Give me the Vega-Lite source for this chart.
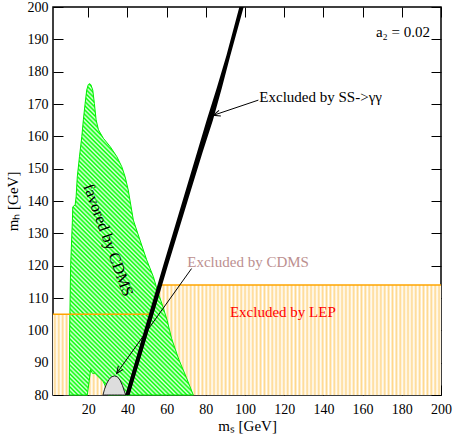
{
"$schema": "https://vega.github.io/schema/vega-lite/v6.json",
"width": 388, "height": 388,
"autosize": {"type": "none"},
"padding": {"left": 53, "top": 7, "right": 12, "bottom": 41},
"background": "white",
"config": {
 "view": {"stroke": "#000", "strokeWidth": 1.5},
 "axis": {"domain": false, "ticks": false, "grid": true, "gridColor": "#000", "gridOpacity": 1, "gridWidth": 1, "zindex": 1, "labelFont": "Liberation Serif", "labelFontSize": 14, "labelColor": "#000", "titleFont": "Liberation Serif", "titleFontSize": 15, "titleFontWeight": "normal", "titleColor": "#000", "labelFlush": false, "labelOverlap": false},
 "text": {"font": "Liberation Serif", "fontSize": 15}
},
"datasets": {
 "orange": [{"x": 2, "y": 105}, {"x": 52.5, "y": 105}, {"x": 56.8, "y": 114}, {"x": 200, "y": 114}],
 "cdms": [{"x":10.3,"y":80},{"x":10.5,"y":100},{"x":11.0,"y":120},{"x":11.9,"y":134},{"x":12.1,"y":138.2},{"x":13.3,"y":138.8},{"x":13.8,"y":141.3},{"x":14.4,"y":147.5},{"x":15.5,"y":153.7},{"x":16.7,"y":159.9},{"x":17.5,"y":165.1},{"x":18.4,"y":170.2},{"x":19.2,"y":174.3},{"x":20.0,"y":176.0},{"x":20.6,"y":176.3},{"x":21.3,"y":176.0},{"x":22.3,"y":174.3},{"x":23.1,"y":170.2},{"x":24.0,"y":165.1},{"x":25.2,"y":162.0},{"x":27.7,"y":159.4},{"x":31.2,"y":156.8},{"x":34.6,"y":153.7},{"x":37.1,"y":150.6},{"x":38.8,"y":147.5},{"x":40.4,"y":143.4},{"x":43.0,"y":134.1},{"x":46.4,"y":127.9},{"x":49.8,"y":121.8},{"x":53.2,"y":116.6},{"x":55.7,"y":111.5},{"x":58.0,"y":107.5},{"x":60.3,"y":103},{"x":62.5,"y":97.5},{"x":66.2,"y":91},{"x":70,"y":85.5},{"x":73.6,"y":80},{"x":30,"y":80},{"x":28.5,"y":83},{"x":27.7,"y":84.1},{"x":23.4,"y":86.7},{"x":22.1,"y":86.7},{"x":21.2,"y":87.9},{"x":20.5,"y":84.5},{"x":19.5,"y":80},{"x":10.3,"y":80}],
 "bump": [{"x":27.5,"y":80},{"x":28.3,"y":81.8},{"x":29.3,"y":83.4},{"x":30.5,"y":84.7},{"x":31.8,"y":85.6},{"x":33.4,"y":85.9},{"x":34.9,"y":85.6},{"x":36.2,"y":84.6},{"x":37.4,"y":83},{"x":38.4,"y":81.2},{"x":39.1,"y":80}],
 "band": [{"y":80,"lo":38.9,"hi":41.1},{"y":100,"lo":48.55,"hi":50.85},{"y":120,"lo":58.2,"hi":60.6},{"y":140,"lo":68.1,"hi":70.7},{"y":155,"lo":75.5,"hi":78.3},{"y":165,"lo":80.4,"hi":83.6},{"y":175,"lo":85.6,"hi":88.2},{"y":185,"lo":90.5,"hi":92.5},{"y":200,"lo":97.1,"hi":99.3}],
 "arrowSS": [{"x":106.8,"y":171.2,"x2":83.8,"y2":166.5}],
 "arrowCDMS": [{"x":72.7,"y":119.1,"x2":34.5,"y2":86.7}],
 "labA2": [{"x":194.4,"y":192.3,"text":"a₂ = 0.02"}],
 "labSS": [{"x":107.3,"y":172.3,"text":"Excluded by SS->γγ"}],
 "labCDMS": [{"x":70.5,"y":121.0,"text":"Excluded by CDMS"}],
 "labLEP": [{"x":92.3,"y":105.8,"text":"Excluded by LEP"}],
 "labFav": [{"x":30.2,"y":127.9,"text":"favored by CDMS"}]
},
"encoding": {
 "x": {"field": "x", "type": "quantitative", "scale": {"domain": [2, 200], "nice": false, "zero": false}, "axis": null},
 "y": {"field": "y", "type": "quantitative", "scale": {"domain": [80, 200], "nice": false, "zero": false}, "axis": null}
},
"layer": [
 {"data": {"name": "orange"},
  "mark": {"type": "area", "fill": {"gradient": "linear", "x1": 0, "y1": 0, "x2": 1, "y2": 0, "stops": [
{"offset":0,"color":"#fff"},{"offset":0.005,"color":"#ffd88c"},{"offset":0.01,"color":"#fff"},{"offset":0.015,"color":"#ffd88c"},{"offset":0.02,"color":"#fff"},{"offset":0.025,"color":"#ffd88c"},{"offset":0.03,"color":"#fff"},{"offset":0.035,"color":"#ffd88c"},{"offset":0.04,"color":"#fff"},{"offset":0.045,"color":"#ffd88c"},{"offset":0.05,"color":"#fff"},{"offset":0.055,"color":"#ffd88c"},{"offset":0.06,"color":"#fff"},{"offset":0.065,"color":"#ffd88c"},{"offset":0.07,"color":"#fff"},{"offset":0.075,"color":"#ffd88c"},{"offset":0.08,"color":"#fff"},{"offset":0.085,"color":"#ffd88c"},{"offset":0.09,"color":"#fff"},{"offset":0.095,"color":"#ffd88c"},
{"offset":0.1,"color":"#fff"},{"offset":0.105,"color":"#ffd88c"},{"offset":0.11,"color":"#fff"},{"offset":0.115,"color":"#ffd88c"},{"offset":0.12,"color":"#fff"},{"offset":0.125,"color":"#ffd88c"},{"offset":0.13,"color":"#fff"},{"offset":0.135,"color":"#ffd88c"},{"offset":0.14,"color":"#fff"},{"offset":0.145,"color":"#ffd88c"},{"offset":0.15,"color":"#fff"},{"offset":0.155,"color":"#ffd88c"},{"offset":0.16,"color":"#fff"},{"offset":0.165,"color":"#ffd88c"},{"offset":0.17,"color":"#fff"},{"offset":0.175,"color":"#ffd88c"},{"offset":0.18,"color":"#fff"},{"offset":0.185,"color":"#ffd88c"},{"offset":0.19,"color":"#fff"},{"offset":0.195,"color":"#ffd88c"},
{"offset":0.2,"color":"#fff"},{"offset":0.205,"color":"#ffd88c"},{"offset":0.21,"color":"#fff"},{"offset":0.215,"color":"#ffd88c"},{"offset":0.22,"color":"#fff"},{"offset":0.225,"color":"#ffd88c"},{"offset":0.23,"color":"#fff"},{"offset":0.235,"color":"#ffd88c"},{"offset":0.24,"color":"#fff"},{"offset":0.245,"color":"#ffd88c"},{"offset":0.25,"color":"#fff"},{"offset":0.255,"color":"#ffd88c"},{"offset":0.26,"color":"#fff"},{"offset":0.265,"color":"#ffd88c"},{"offset":0.27,"color":"#fff"},{"offset":0.275,"color":"#ffd88c"},{"offset":0.28,"color":"#fff"},{"offset":0.285,"color":"#ffd88c"},{"offset":0.29,"color":"#fff"},{"offset":0.295,"color":"#ffd88c"},
{"offset":0.3,"color":"#fff"},{"offset":0.305,"color":"#ffd88c"},{"offset":0.31,"color":"#fff"},{"offset":0.315,"color":"#ffd88c"},{"offset":0.32,"color":"#fff"},{"offset":0.325,"color":"#ffd88c"},{"offset":0.33,"color":"#fff"},{"offset":0.335,"color":"#ffd88c"},{"offset":0.34,"color":"#fff"},{"offset":0.345,"color":"#ffd88c"},{"offset":0.35,"color":"#fff"},{"offset":0.355,"color":"#ffd88c"},{"offset":0.36,"color":"#fff"},{"offset":0.365,"color":"#ffd88c"},{"offset":0.37,"color":"#fff"},{"offset":0.375,"color":"#ffd88c"},{"offset":0.38,"color":"#fff"},{"offset":0.385,"color":"#ffd88c"},{"offset":0.39,"color":"#fff"},{"offset":0.395,"color":"#ffd88c"},
{"offset":0.4,"color":"#fff"},{"offset":0.405,"color":"#ffd88c"},{"offset":0.41,"color":"#fff"},{"offset":0.415,"color":"#ffd88c"},{"offset":0.42,"color":"#fff"},{"offset":0.425,"color":"#ffd88c"},{"offset":0.43,"color":"#fff"},{"offset":0.435,"color":"#ffd88c"},{"offset":0.44,"color":"#fff"},{"offset":0.445,"color":"#ffd88c"},{"offset":0.45,"color":"#fff"},{"offset":0.455,"color":"#ffd88c"},{"offset":0.46,"color":"#fff"},{"offset":0.465,"color":"#ffd88c"},{"offset":0.47,"color":"#fff"},{"offset":0.475,"color":"#ffd88c"},{"offset":0.48,"color":"#fff"},{"offset":0.485,"color":"#ffd88c"},{"offset":0.49,"color":"#fff"},{"offset":0.495,"color":"#ffd88c"},
{"offset":0.5,"color":"#fff"},{"offset":0.505,"color":"#ffd88c"},{"offset":0.51,"color":"#fff"},{"offset":0.515,"color":"#ffd88c"},{"offset":0.52,"color":"#fff"},{"offset":0.525,"color":"#ffd88c"},{"offset":0.53,"color":"#fff"},{"offset":0.535,"color":"#ffd88c"},{"offset":0.54,"color":"#fff"},{"offset":0.545,"color":"#ffd88c"},{"offset":0.55,"color":"#fff"},{"offset":0.555,"color":"#ffd88c"},{"offset":0.56,"color":"#fff"},{"offset":0.565,"color":"#ffd88c"},{"offset":0.57,"color":"#fff"},{"offset":0.575,"color":"#ffd88c"},{"offset":0.58,"color":"#fff"},{"offset":0.585,"color":"#ffd88c"},{"offset":0.59,"color":"#fff"},{"offset":0.595,"color":"#ffd88c"},
{"offset":0.6,"color":"#fff"},{"offset":0.605,"color":"#ffd88c"},{"offset":0.61,"color":"#fff"},{"offset":0.615,"color":"#ffd88c"},{"offset":0.62,"color":"#fff"},{"offset":0.625,"color":"#ffd88c"},{"offset":0.63,"color":"#fff"},{"offset":0.635,"color":"#ffd88c"},{"offset":0.64,"color":"#fff"},{"offset":0.645,"color":"#ffd88c"},{"offset":0.65,"color":"#fff"},{"offset":0.655,"color":"#ffd88c"},{"offset":0.66,"color":"#fff"},{"offset":0.665,"color":"#ffd88c"},{"offset":0.67,"color":"#fff"},{"offset":0.675,"color":"#ffd88c"},{"offset":0.68,"color":"#fff"},{"offset":0.685,"color":"#ffd88c"},{"offset":0.69,"color":"#fff"},{"offset":0.695,"color":"#ffd88c"},
{"offset":0.7,"color":"#fff"},{"offset":0.705,"color":"#ffd88c"},{"offset":0.71,"color":"#fff"},{"offset":0.715,"color":"#ffd88c"},{"offset":0.72,"color":"#fff"},{"offset":0.725,"color":"#ffd88c"},{"offset":0.73,"color":"#fff"},{"offset":0.735,"color":"#ffd88c"},{"offset":0.74,"color":"#fff"},{"offset":0.745,"color":"#ffd88c"},{"offset":0.75,"color":"#fff"},{"offset":0.755,"color":"#ffd88c"},{"offset":0.76,"color":"#fff"},{"offset":0.765,"color":"#ffd88c"},{"offset":0.77,"color":"#fff"},{"offset":0.775,"color":"#ffd88c"},{"offset":0.78,"color":"#fff"},{"offset":0.785,"color":"#ffd88c"},{"offset":0.79,"color":"#fff"},{"offset":0.795,"color":"#ffd88c"},
{"offset":0.8,"color":"#fff"},{"offset":0.805,"color":"#ffd88c"},{"offset":0.81,"color":"#fff"},{"offset":0.815,"color":"#ffd88c"},{"offset":0.82,"color":"#fff"},{"offset":0.825,"color":"#ffd88c"},{"offset":0.83,"color":"#fff"},{"offset":0.835,"color":"#ffd88c"},{"offset":0.84,"color":"#fff"},{"offset":0.845,"color":"#ffd88c"},{"offset":0.85,"color":"#fff"},{"offset":0.855,"color":"#ffd88c"},{"offset":0.86,"color":"#fff"},{"offset":0.865,"color":"#ffd88c"},{"offset":0.87,"color":"#fff"},{"offset":0.875,"color":"#ffd88c"},{"offset":0.88,"color":"#fff"},{"offset":0.885,"color":"#ffd88c"},{"offset":0.89,"color":"#fff"},{"offset":0.895,"color":"#ffd88c"},
{"offset":0.9,"color":"#fff"},{"offset":0.905,"color":"#ffd88c"},{"offset":0.91,"color":"#fff"},{"offset":0.915,"color":"#ffd88c"},{"offset":0.92,"color":"#fff"},{"offset":0.925,"color":"#ffd88c"},{"offset":0.93,"color":"#fff"},{"offset":0.935,"color":"#ffd88c"},{"offset":0.94,"color":"#fff"},{"offset":0.945,"color":"#ffd88c"},{"offset":0.95,"color":"#fff"},{"offset":0.955,"color":"#ffd88c"},{"offset":0.96,"color":"#fff"},{"offset":0.965,"color":"#ffd88c"},{"offset":0.97,"color":"#fff"},{"offset":0.975,"color":"#ffd88c"},{"offset":0.98,"color":"#fff"},{"offset":0.985,"color":"#ffd88c"},{"offset":0.99,"color":"#fff"},{"offset":0.995,"color":"#ffd88c"},
{"offset":1,"color":"#fff"}]}},
  "encoding": {
   "x": {"field": "x", "type": "quantitative", "axis": {"orient": "bottom", "values": [20,40,60,80,100,120,140,160,180,200], "gridDash": [10, 368], "labelPadding": 7, "labelFont": "Liberation Serif", "title": "mₛ [GeV]", "titlePadding": 2}},
   "y": {"field": "y", "type": "quantitative", "axis": {"orient": "left", "values": [80,90,100,110,120,130,140,150,160,170,180,190,200], "gridDash": [10, 368], "labelPadding": 5, "labelFont": "Liberation Serif", "title": "mₕ [GeV]", "titlePadding": 7}},
   "y2": {"datum": 80}
  }},
 {"data": {"name": "cdms"},
  "mark": {"type": "line", "stroke": "#00ee00", "strokeWidth": 1, "fill": {"gradient": "linear", "x1": 0, "y1": 1, "x2": 0.4806, "y2": -0.207, "stops": [
{"offset":0,"color":"#0f0"},{"offset":0.005,"color":"#e6ffe6"},{"offset":0.01,"color":"#0f0"},{"offset":0.015,"color":"#e6ffe6"},{"offset":0.02,"color":"#0f0"},{"offset":0.025,"color":"#e6ffe6"},{"offset":0.03,"color":"#0f0"},{"offset":0.035,"color":"#e6ffe6"},{"offset":0.04,"color":"#0f0"},{"offset":0.045,"color":"#e6ffe6"},{"offset":0.05,"color":"#0f0"},{"offset":0.055,"color":"#e6ffe6"},{"offset":0.06,"color":"#0f0"},{"offset":0.065,"color":"#e6ffe6"},{"offset":0.07,"color":"#0f0"},{"offset":0.075,"color":"#e6ffe6"},{"offset":0.08,"color":"#0f0"},{"offset":0.085,"color":"#e6ffe6"},{"offset":0.09,"color":"#0f0"},{"offset":0.095,"color":"#e6ffe6"},
{"offset":0.1,"color":"#0f0"},{"offset":0.105,"color":"#e6ffe6"},{"offset":0.11,"color":"#0f0"},{"offset":0.115,"color":"#e6ffe6"},{"offset":0.12,"color":"#0f0"},{"offset":0.125,"color":"#e6ffe6"},{"offset":0.13,"color":"#0f0"},{"offset":0.135,"color":"#e6ffe6"},{"offset":0.14,"color":"#0f0"},{"offset":0.145,"color":"#e6ffe6"},{"offset":0.15,"color":"#0f0"},{"offset":0.155,"color":"#e6ffe6"},{"offset":0.16,"color":"#0f0"},{"offset":0.165,"color":"#e6ffe6"},{"offset":0.17,"color":"#0f0"},{"offset":0.175,"color":"#e6ffe6"},{"offset":0.18,"color":"#0f0"},{"offset":0.185,"color":"#e6ffe6"},{"offset":0.19,"color":"#0f0"},{"offset":0.195,"color":"#e6ffe6"},
{"offset":0.2,"color":"#0f0"},{"offset":0.205,"color":"#e6ffe6"},{"offset":0.21,"color":"#0f0"},{"offset":0.215,"color":"#e6ffe6"},{"offset":0.22,"color":"#0f0"},{"offset":0.225,"color":"#e6ffe6"},{"offset":0.23,"color":"#0f0"},{"offset":0.235,"color":"#e6ffe6"},{"offset":0.24,"color":"#0f0"},{"offset":0.245,"color":"#e6ffe6"},{"offset":0.25,"color":"#0f0"},{"offset":0.255,"color":"#e6ffe6"},{"offset":0.26,"color":"#0f0"},{"offset":0.265,"color":"#e6ffe6"},{"offset":0.27,"color":"#0f0"},{"offset":0.275,"color":"#e6ffe6"},{"offset":0.28,"color":"#0f0"},{"offset":0.285,"color":"#e6ffe6"},{"offset":0.29,"color":"#0f0"},{"offset":0.295,"color":"#e6ffe6"},
{"offset":0.3,"color":"#0f0"},{"offset":0.305,"color":"#e6ffe6"},{"offset":0.31,"color":"#0f0"},{"offset":0.315,"color":"#e6ffe6"},{"offset":0.32,"color":"#0f0"},{"offset":0.325,"color":"#e6ffe6"},{"offset":0.33,"color":"#0f0"},{"offset":0.335,"color":"#e6ffe6"},{"offset":0.34,"color":"#0f0"},{"offset":0.345,"color":"#e6ffe6"},{"offset":0.35,"color":"#0f0"},{"offset":0.355,"color":"#e6ffe6"},{"offset":0.36,"color":"#0f0"},{"offset":0.365,"color":"#e6ffe6"},{"offset":0.37,"color":"#0f0"},{"offset":0.375,"color":"#e6ffe6"},{"offset":0.38,"color":"#0f0"},{"offset":0.385,"color":"#e6ffe6"},{"offset":0.39,"color":"#0f0"},{"offset":0.395,"color":"#e6ffe6"},
{"offset":0.4,"color":"#0f0"},{"offset":0.405,"color":"#e6ffe6"},{"offset":0.41,"color":"#0f0"},{"offset":0.415,"color":"#e6ffe6"},{"offset":0.42,"color":"#0f0"},{"offset":0.425,"color":"#e6ffe6"},{"offset":0.43,"color":"#0f0"},{"offset":0.435,"color":"#e6ffe6"},{"offset":0.44,"color":"#0f0"},{"offset":0.445,"color":"#e6ffe6"},{"offset":0.45,"color":"#0f0"},{"offset":0.455,"color":"#e6ffe6"},{"offset":0.46,"color":"#0f0"},{"offset":0.465,"color":"#e6ffe6"},{"offset":0.47,"color":"#0f0"},{"offset":0.475,"color":"#e6ffe6"},{"offset":0.48,"color":"#0f0"},{"offset":0.485,"color":"#e6ffe6"},{"offset":0.49,"color":"#0f0"},{"offset":0.495,"color":"#e6ffe6"},
{"offset":0.5,"color":"#0f0"},{"offset":0.505,"color":"#e6ffe6"},{"offset":0.51,"color":"#0f0"},{"offset":0.515,"color":"#e6ffe6"},{"offset":0.52,"color":"#0f0"},{"offset":0.525,"color":"#e6ffe6"},{"offset":0.53,"color":"#0f0"},{"offset":0.535,"color":"#e6ffe6"},{"offset":0.54,"color":"#0f0"},{"offset":0.545,"color":"#e6ffe6"},{"offset":0.55,"color":"#0f0"},{"offset":0.555,"color":"#e6ffe6"},{"offset":0.56,"color":"#0f0"},{"offset":0.565,"color":"#e6ffe6"},{"offset":0.57,"color":"#0f0"},{"offset":0.575,"color":"#e6ffe6"},{"offset":0.58,"color":"#0f0"},{"offset":0.585,"color":"#e6ffe6"},{"offset":0.59,"color":"#0f0"},{"offset":0.595,"color":"#e6ffe6"},
{"offset":0.6,"color":"#0f0"},{"offset":0.605,"color":"#e6ffe6"},{"offset":0.61,"color":"#0f0"},{"offset":0.615,"color":"#e6ffe6"},{"offset":0.62,"color":"#0f0"},{"offset":0.625,"color":"#e6ffe6"},{"offset":0.63,"color":"#0f0"},{"offset":0.635,"color":"#e6ffe6"},{"offset":0.64,"color":"#0f0"},{"offset":0.645,"color":"#e6ffe6"},{"offset":0.65,"color":"#0f0"},{"offset":0.655,"color":"#e6ffe6"},{"offset":0.66,"color":"#0f0"},{"offset":0.665,"color":"#e6ffe6"},{"offset":0.67,"color":"#0f0"},{"offset":0.675,"color":"#e6ffe6"},{"offset":0.68,"color":"#0f0"},{"offset":0.685,"color":"#e6ffe6"},{"offset":0.69,"color":"#0f0"},{"offset":0.695,"color":"#e6ffe6"},
{"offset":0.7,"color":"#0f0"},{"offset":0.705,"color":"#e6ffe6"},{"offset":0.71,"color":"#0f0"},{"offset":0.715,"color":"#e6ffe6"},{"offset":0.72,"color":"#0f0"},{"offset":0.725,"color":"#e6ffe6"},{"offset":0.73,"color":"#0f0"},{"offset":0.735,"color":"#e6ffe6"},{"offset":0.74,"color":"#0f0"},{"offset":0.745,"color":"#e6ffe6"},{"offset":0.75,"color":"#0f0"},{"offset":0.755,"color":"#e6ffe6"},{"offset":0.76,"color":"#0f0"},{"offset":0.765,"color":"#e6ffe6"},{"offset":0.77,"color":"#0f0"},{"offset":0.775,"color":"#e6ffe6"},{"offset":0.78,"color":"#0f0"},{"offset":0.785,"color":"#e6ffe6"},{"offset":0.79,"color":"#0f0"},{"offset":0.795,"color":"#e6ffe6"},
{"offset":0.8,"color":"#0f0"},{"offset":0.805,"color":"#e6ffe6"},{"offset":0.81,"color":"#0f0"},{"offset":0.815,"color":"#e6ffe6"},{"offset":0.82,"color":"#0f0"},{"offset":0.825,"color":"#e6ffe6"},{"offset":0.83,"color":"#0f0"},{"offset":0.835,"color":"#e6ffe6"},{"offset":0.84,"color":"#0f0"},{"offset":0.845,"color":"#e6ffe6"},{"offset":0.85,"color":"#0f0"},{"offset":0.855,"color":"#e6ffe6"},{"offset":0.86,"color":"#0f0"},{"offset":0.865,"color":"#e6ffe6"},{"offset":0.87,"color":"#0f0"},{"offset":0.875,"color":"#e6ffe6"},{"offset":0.88,"color":"#0f0"},{"offset":0.885,"color":"#e6ffe6"},{"offset":0.89,"color":"#0f0"},{"offset":0.895,"color":"#e6ffe6"},
{"offset":0.9,"color":"#0f0"},{"offset":0.905,"color":"#e6ffe6"},{"offset":0.91,"color":"#0f0"},{"offset":0.915,"color":"#e6ffe6"},{"offset":0.92,"color":"#0f0"},{"offset":0.925,"color":"#e6ffe6"},{"offset":0.93,"color":"#0f0"},{"offset":0.935,"color":"#e6ffe6"},{"offset":0.94,"color":"#0f0"},{"offset":0.945,"color":"#e6ffe6"},{"offset":0.95,"color":"#0f0"},{"offset":0.955,"color":"#e6ffe6"},{"offset":0.96,"color":"#0f0"},{"offset":0.965,"color":"#e6ffe6"},{"offset":0.97,"color":"#0f0"},{"offset":0.975,"color":"#e6ffe6"},{"offset":0.98,"color":"#0f0"},{"offset":0.985,"color":"#e6ffe6"},{"offset":0.99,"color":"#0f0"},{"offset":0.995,"color":"#e6ffe6"},
{"offset":1,"color":"#0f0"}]}},
  "encoding": {
   "x": {"field": "x", "type": "quantitative", "axis": {"orient": "bottom", "values": [4,8,12,16,24,28,32,36,44,48,52,56,64,68,72,76,84,88,92,96,104,108,112,116,124,128,132,136,144,148,152,156,164,168,172,176,184,188,192,196], "gridDash": [5, 378], "labels": false, "title": null}},
   "y": {"field": "y", "type": "quantitative", "axis": {"orient": "left", "values": [82,84,86,88,92,94,96,98,102,104,106,108,112,114,116,118,122,124,126,128,132,134,136,138,142,144,146,148,152,154,156,158,162,164,166,168,172,174,176,178,182,184,186,188,192,194,196,198], "gridDash": [5, 378], "labels": false, "title": null}},
   "order": {"value": null}
  }},
 {"data": {"name": "orange"},
  "mark": {"type": "line", "color": "#ffa500", "strokeWidth": 1.5}},
 {"data": {"name": "bump"},
  "mark": {"type": "area", "fill": "#dddddd", "stroke": "#222", "strokeWidth": 1},
  "encoding": {"y2": {"datum": 80}}},
 {"data": {"name": "band"},
  "mark": {"type": "area", "orient": "horizontal", "color": "#000"},
  "encoding": {
   "x": {"field": "lo", "type": "quantitative", "axis": null},
   "x2": {"field": "hi"}
  }},
 {"data": {"name": "arrowSS"},
  "mark": {"type": "rule", "color": "#000", "strokeWidth": 1},
  "encoding": {"x2": {"field": "x2"}, "y2": {"field": "y2"}}},
 {"data": {"name": "arrowSS"},
  "mark": {"type": "point", "shape": "M -1 -0.42 L 0 0 L -1 0.42", "filled": false, "color": "#000", "strokeWidth": 1, "size": 196, "angle": 161.6, "opacity": 1},
  "encoding": {"x": {"field": "x2", "type": "quantitative", "axis": null}, "y": {"field": "y2", "type": "quantitative", "axis": null}}},
 {"data": {"name": "arrowCDMS"},
  "mark": {"type": "rule", "color": "#000", "strokeWidth": 1},
  "encoding": {"x2": {"field": "x2"}, "y2": {"field": "y2"}}},
 {"data": {"name": "arrowCDMS"},
  "mark": {"type": "point", "shape": "M -1 -0.42 L 0 0 L -1 0.42", "filled": false, "color": "#000", "strokeWidth": 1, "size": 196, "angle": 125.5, "opacity": 1},
  "encoding": {"x": {"field": "x2", "type": "quantitative", "axis": null}, "y": {"field": "y2", "type": "quantitative", "axis": null}}},
 {"data": {"name": "labA2"},
  "mark": {"type": "text", "align": "right", "baseline": "middle", "color": "#000", "fontSize": 15},
  "encoding": {"text": {"field": "text"}}},
 {"data": {"name": "labSS"},
  "mark": {"type": "text", "align": "left", "baseline": "middle", "color": "#000", "fontSize": 15},
  "encoding": {"text": {"field": "text"}}},
 {"data": {"name": "labCDMS"},
  "mark": {"type": "text", "align": "left", "baseline": "middle", "color": "#bc8f8f", "fontSize": 15},
  "encoding": {"text": {"field": "text"}}},
 {"data": {"name": "labLEP"},
  "mark": {"type": "text", "align": "left", "baseline": "middle", "color": "#ff0000", "fontSize": 15},
  "encoding": {"text": {"field": "text"}}},
 {"data": {"name": "labFav"},
  "mark": {"type": "text", "align": "center", "baseline": "middle", "color": "#000", "fontSize": 16, "angle": 70},
  "encoding": {"text": {"field": "text"}}}
],
"resolve": {"axis": {"x": "independent", "y": "independent"}}
}
